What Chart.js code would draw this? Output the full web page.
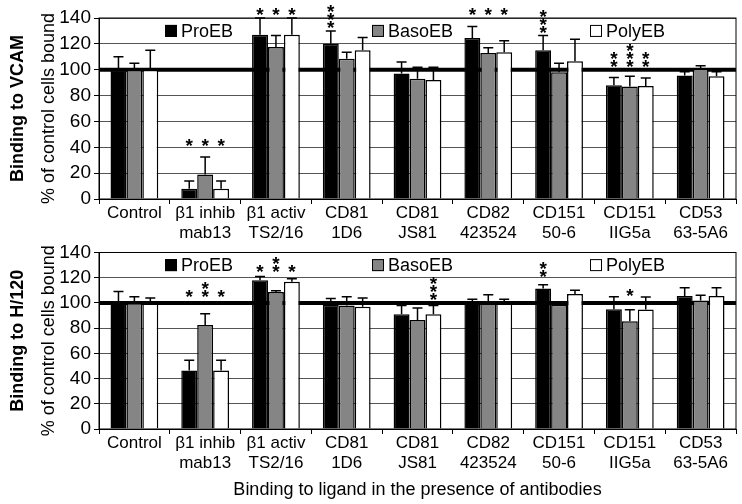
<!DOCTYPE html>
<html>
<head>
<meta charset="utf-8">
<script src="https://cdn.jsdelivr.net/npm/chart.js@4.4.1/dist/chart.umd.min.js"></script>
<style>
  body { margin: 0; background: #fff; }
  .panel { position: absolute; left: 0; width: 742px; }
  #topPanel { top: 0; height: 240px; }
  #bottomPanel { top: 240px; height: 264px; }
</style>
</head>
<body>
<div class="panel" id="topPanel"><canvas id="vcam"></canvas></div>
<div class="panel" id="bottomPanel"><canvas id="h120"></canvas></div>
<script>
// categories and series
var categories = [["Control"], ["\u03b21 inhib", "mab13"], ["\u03b21 activ", "TS2/16"], ["CD81", "1D6"], ["CD81", "JS81"],
                  ["CD82", "423524"], ["CD151", "50-6"], ["CD151", "IIG5a"], ["CD53", "63-5A6"]];
var seriesNames = ["ProEB", "BasoEB", "PolyEB"];
var yTicks = [0, 20, 40, 60, 80, 100, 120, 140];
var referenceLevel = 100;

// binding to VCAM
var proVcam = [100, 8, 127, 120, 97, 124.5, 115, 88, 95.5];
var basoVcam = [100, 19, 117.5, 108.5, 93, 113, 98, 87, 101];
var polyVcam = [100, 8, 127, 115, 92, 113.5, 106.5, 87.5, 95];
var proVcamErr = [10, 6, 13, 10, 9, 9, 11.5, 6, 3];
var basoVcamErr = [5, 13.5, 9, 5, 9, 4, 7, 8, 2];
var polyVcamErr = [15, 6, 13, 10, 10, 9, 17, 6, 3.5];
var proVcamStars = [0, 1, 1, 3, 0, 1, 3, 2, 0];
var basoVcamStars = [0, 1, 1, 0, 0, 1, 0, 3, 0];
var polyVcamStars = [0, 1, 1, 0, 0, 1, 0, 2, 0];
var proVcamStarAt = [0, 44, 145, 135, 0, 145, 131, 105, 0];
var basoVcamStarAt = [0, 44, 145, 0, 0, 145, 0, 105, 0];
var polyVcamStarAt = [0, 44, 145, 0, 0, 145, 0, 105, 0];

// binding to H/120
var proH = [100, 46.5, 118, 98.5, 91, 101.5, 111.5, 95, 105.5];
var basoH = [100, 82.5, 108.7, 98, 86.5, 99.5, 98.5, 85.5, 102];
var polyH = [99.5, 46.5, 116.7, 97, 91, 99.5, 107, 94.7, 105.5];
var proHErr = [9, 8, 3, 5, 7, 1.5, 3, 10, 6.5];
var basoHErr = [5, 9, 1, 7, 9.5, 7, 0, 9, 4];
var polyHErr = [4.5, 8, 2.5, 7, 7, 3.5, 3, 10, 6.5];
var proHStars = [0, 1, 1, 0, 0, 0, 2, 0, 0];
var basoHStars = [0, 2, 2, 0, 0, 0, 0, 1, 0];
var polyHStars = [0, 1, 1, 0, 3, 0, 0, 0, 0];
var proHStarAt = [0, 107.5, 127.5, 0, 0, 0, 123.5, 0, 0];
var basoHStarAt = [0, 107.5, 127.5, 0, 0, 0, 0, 108, 0];
var polyHStarAt = [0, 107.5, 127.5, 0, 105, 0, 0, 0, 0];

var fills = ["#000000", "#858585", "#ffffff"];
var FONT = "'Liberation Sans', Arial, sans-serif";

var overlay = {
  id: 'overlay',
  beforeDatasetsDraw: function (chart, args, opts) {
    var ctx = chart.ctx, area = chart.chartArea, y = chart.scales.y;
    ctx.save();
    // thick reference line at 100
    ctx.strokeStyle = '#000';
    ctx.lineWidth = 4;
    ctx.beginPath();
    ctx.moveTo(area.left, y.getPixelForValue(referenceLevel));
    ctx.lineTo(area.right, y.getPixelForValue(referenceLevel));
    ctx.stroke();
    // legend in the top band
    var ly = y.getPixelForValue(130);
    var lx = [165, 372, 590];
    ctx.font = '18px ' + FONT;
    ctx.textBaseline = 'middle';
    ctx.textAlign = 'left';
    for (var i = 0; i < seriesNames.length; i++) {
      ctx.fillStyle = fills[i];
      ctx.fillRect(lx[i], ly - 6, 12, 12);
      ctx.lineWidth = 1;
      ctx.strokeStyle = '#000';
      ctx.strokeRect(lx[i] + 0.5, ly - 5.5, 11, 11);
      ctx.fillStyle = '#000';
      ctx.fillText(seriesNames[i], lx[i] + 16, ly + 1);
    }
    ctx.restore();
  },
  afterDatasetsDraw: function (chart, args, opts) {
    var ctx = chart.ctx, area = chart.chartArea, y = chart.scales.y;
    ctx.save();
    ctx.strokeStyle = '#000';
    ctx.fillStyle = '#000';
    ctx.lineWidth = 1.5;
    ctx.font = 'bold 19px ' + FONT;
    ctx.textAlign = 'center';
    ctx.textBaseline = 'alphabetic';
    var m = ctx.measureText('*');
    var shift = (m.actualBoundingBoxAscent - m.actualBoundingBoxDescent) / 2;
    chart.data.datasets.forEach(function (ds, i) {
      var meta = chart.getDatasetMeta(i);
      meta.data.forEach(function (bar, j) {
        var e = opts.errors[i][j];
        if (e > 0) {
          var yTop = y.getPixelForValue(ds.data[j] + e);
          ctx.beginPath();
          ctx.moveTo(bar.x, bar.y);
          ctx.lineTo(bar.x, yTop);
          ctx.moveTo(bar.x - 5, yTop);
          ctx.lineTo(bar.x + 5, yTop);
          ctx.stroke();
        }
        var n = opts.stars[i][j];
        for (var k = 0; k < n; k++) {
          var cy = y.getPixelForValue(opts.starAt[i][j]) - k * 8;
          ctx.fillText('*', bar.x, cy + shift);
        }
      });
    });
    // plot frame
    ctx.lineWidth = 1;
    ctx.strokeRect(area.left, area.top, area.right - area.left, area.bottom - area.top);
    ctx.restore();
  },
  afterDraw: function (chart, args, opts) {
    var ctx = chart.ctx, area = chart.chartArea;
    var cy = (area.top + area.bottom) / 2;
    ctx.save();
    ctx.fillStyle = '#000';
    ctx.textAlign = 'center';
    ctx.textBaseline = 'middle';
    ctx.translate(0, cy);
    ctx.rotate(-Math.PI / 2);
    ctx.font = 'bold 18px ' + FONT;
    ctx.fillText(opts.sideTitle, 0, 18);
    ctx.font = '18px ' + FONT;
    ctx.fillText('% of control cells bound', 0, 49);
    ctx.restore();
  }
};

function makePanel(id, values, errors, stars, starAt, sideTitle, topPad, xHeight, xTitle) {
  var ctx = document.getElementById(id).getContext('2d');
  return new Chart(ctx, {
    type: 'bar',
    data: {
      labels: categories,
      datasets: values.map(function (v, i) {
        return {
          label: seriesNames[i],
          data: v,
          backgroundColor: fills[i],
          borderColor: '#000',
          borderWidth: 1.5,
          borderSkipped: 'bottom',
          categoryPercentage: 0.675,
          barPercentage: 1.0
        };
      })
    },
    options: {
      responsive: true,
      maintainAspectRatio: false,
      animation: false,
      devicePixelRatio: 1,
      layout: { padding: { top: topPad, right: 6, left: 0, bottom: 0 } },
      plugins: {
        legend: { display: false },
        tooltip: { enabled: false },
        overlay: { errors: errors, stars: stars, starAt: starAt, sideTitle: sideTitle }
      },
      scales: {
        y: {
          min: yTicks[0],
          max: yTicks[yTicks.length - 1],
          afterBuildTicks: function (s) { s.ticks = yTicks.map(function (t) { return { value: t }; }); },
          afterFit: function (s) { s.width = 99; },
          ticks: { font: { size: 19, family: FONT, lineHeight: 1 }, color: '#000', padding: 3, autoSkip: false },
          grid: { color: '#555', lineWidth: 1, tickLength: 5, tickColor: '#000' },
          border: { color: '#000', width: 1 }
        },
        x: {
          afterFit: function (s) { s.height = xHeight; },
          grid: { drawOnChartArea: false, tickLength: 5, tickColor: '#000', offset: true },
          border: { color: '#000', width: 1 },
          ticks: { font: { size: 17, family: FONT, lineHeight: 1.15 }, color: '#000', padding: 0, maxRotation: 0, autoSkip: false },
          title: {
            display: !!xTitle,
            text: xTitle || '',
            color: '#000',
            font: { size: 18, family: FONT },
            padding: { top: 0, bottom: 3 }
          }
        }
      }
    },
    plugins: [overlay]
  });
}

makePanel('vcam', [proVcam, basoVcam, polyVcam], [proVcamErr, basoVcamErr, polyVcamErr],
  [proVcamStars, basoVcamStars, polyVcamStars], [proVcamStarAt, basoVcamStarAt, polyVcamStarAt],
  'Binding to VCAM', 18, 41, null);

makePanel('h120', [proH, basoH, polyH], [proHErr, basoHErr, polyHErr],
  [proHStars, basoHStars, polyHStars], [proHStarAt, basoHStarAt, polyHStarAt],
  'Binding to H/120', 7, 75, 'Binding to ligand in the presence of antibodies');
</script>
</body>
</html>
